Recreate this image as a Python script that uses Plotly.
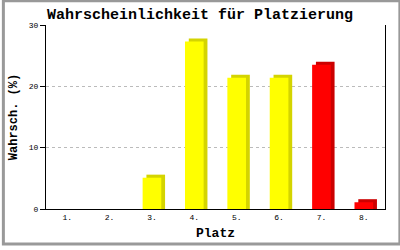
import plotly.graph_objects as go

# ---- data ----
categories = ["1.", "2.", "3.", "4.", "5.", "6.", "7.", "8."]
values = [0, 0, 5.1, 27.3, 21.4, 21.4, 23.5, 1.1]
zone = ["normal", "normal", "normal", "normal", "normal", "normal", "danger", "danger"]
y_ticks = [0, 10, 20, 30]

# ---- style ----
front = {"normal": "#FFFF00", "danger": "#FF0000"}
side = {"normal": "#D4D400", "danger": "#CC0000"}
W, H = 400, 250
L, R, T, B = 43, 15, 25, 36
pw, ph = W - L - R, H - T - B
depth_x = 0.09   # category units
depth_y = 0.5    # value units

front_cols = [front[z] for z in zone]
side_cols = [side[z] for z in zone]
back_vals = [v + depth_y if v > 0 else None for v in values]

fig = go.Figure()
fig.add_trace(go.Bar(x=categories, y=back_vals, width=0.44, offset=-0.22 + depth_x,
                     marker=dict(color=side_cols, line=dict(width=0)), hoverinfo="skip"))
fig.add_trace(go.Bar(x=categories, y=values, width=0.44, offset=-0.22,
                     marker=dict(color=front_cols, line=dict(width=0))))

mono = "Liberation Mono"
fig.update_layout(
    width=W, height=H, barmode="overlay", showlegend=False,
    margin=dict(l=L, r=R, t=T, b=B),
    paper_bgcolor="white", plot_bgcolor="white",
    title=dict(text="<b>Wahrscheinlichkeit für Platzierung</b>", x=0.5, xanchor="center",
               y=1 - 14 / H, yanchor="middle",
               font=dict(family=mono, size=15, color="black")),
    xaxis=dict(showline=True, linecolor="black", linewidth=1, ticks="",
               showgrid=False, tickfont=dict(family=mono, size=8, color="black"),
               title=dict(text="<b>Platz</b>", font=dict(family=mono, size=13, color="black"),
                          standoff=7),
               range=[-0.5, 7.5]),
    yaxis=dict(range=[0, 30], tickvals=y_ticks, showline=True, mirror=True,
               linecolor="black", linewidth=1, ticks="outside", ticklen=5,
               tickcolor="black", zeroline=False,
               showgrid=True, gridcolor="#BBBBBB", griddash="3px,3px", gridwidth=1,
               tickfont=dict(family=mono, size=8, color="black"),
               title=dict(text="<b>Wahrsch. (%)</b>", font=dict(family=mono, size=12, color="black"),
                          standoff=8)),
)

fig.add_shape(type="rect", xref="paper", yref="paper",
              x0=-L / pw, x1=1 + R / pw, y0=-B / ph, y1=1 + T / ph,
              line=dict(color="#999999", width=3), layer="above")

fig.write_html("out.html")
